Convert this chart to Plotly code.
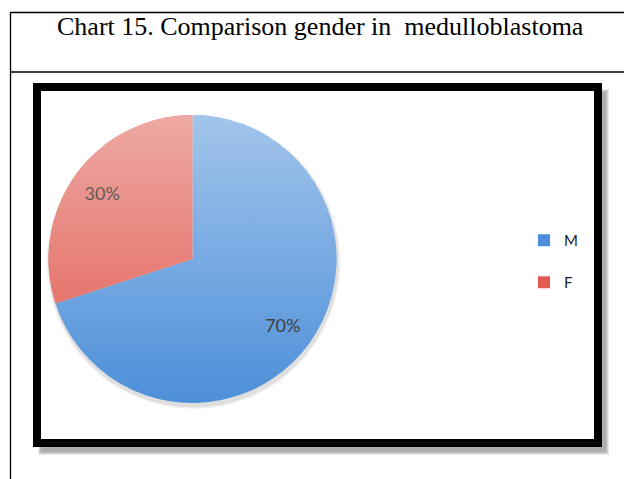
import base64
import plotly.graph_objects as go

# data
genders = ["M", "F"]
share = [70, 30]
colors = ["#4d8fd9", "#e05a50"]
label_colors = ["#222222", "#000000"]
title = "Chart 15. Comparison gender in  medulloblastoma"

W, H = 624, 479


def px(x):
    return x / W


def py(y):
    return 1 - y / H


# pie box in pixels (left, top, right, bottom)
pie_box = (48.5, 115, 336.5, 403)
pie_domain = dict(x=[px(pie_box[0]), px(pie_box[2])], y=[py(pie_box[3]), py(pie_box[1])])

fig = go.Figure()
fig.add_trace(go.Pie(
    labels=[g + "<br> " for g in genders],
    values=share,
    sort=False,
    direction="clockwise",
    rotation=0,
    marker=dict(colors=colors, line=dict(width=0)),
    textinfo="none",
    domain=pie_domain,
    hoverinfo="label+percent",
))
# same slices again, transparent, only to carry the percent labels further out
fig.add_trace(go.Pie(
    labels=[g + "<br> " for g in genders],
    values=share,
    sort=False,
    direction="clockwise",
    rotation=0,
    hole=0.55,
    marker=dict(colors=["rgba(0,0,0,0)"] * len(genders), line=dict(width=0)),
    texttemplate="%{percent:.0%}",
    textposition="inside",
    insidetextorientation="horizontal",
    textfont=dict(family="Lato", size=18, color=label_colors),
    domain=pie_domain,
    showlegend=False,
    hoverinfo="skip",
))

shapes = []
# drop shadow of the framed box
box = (33, 83, 602, 447)
for k in range(4):
    shapes.append(dict(type="rect", xref="paper", yref="paper", layer="below",
                       x0=px(box[0] + 8 - k), x1=px(box[2] + 4 + k),
                       y0=py(box[1] + 9 - k), y1=py(box[3] + 5 + k),
                       line=dict(width=0), fillcolor="rgba(0,0,0,0.09)"))
# thick black frame
shapes.append(dict(type="rect", xref="paper", yref="paper", layer="below",
                   x0=px(box[0] + 4), x1=px(box[2] - 4), y0=py(box[1] + 4), y1=py(box[3] - 4),
                   line=dict(color="black", width=8), fillcolor="white"))
# table lines
shapes.append(dict(type="line", xref="paper", yref="paper", layer="below",
                   x0=px(10.5), x1=1, y0=py(12.5), y1=py(12.5), line=dict(color="black", width=1.3)))
shapes.append(dict(type="line", xref="paper", yref="paper", layer="below",
                   x0=px(10.5), x1=1, y0=py(72), y1=py(72), line=dict(color="black", width=1.3)))
shapes.append(dict(type="line", xref="paper", yref="paper", layer="below",
                   x0=px(10.5), x1=px(10.5), y0=py(12), y1=0, line=dict(color="black", width=1.3)))
# soft shadow under the pie
for k, a in [(3, 0.05), (1.5, 0.08)]:
    shapes.append(dict(type="circle", xref="paper", yref="paper", layer="below",
                       x0=px(pie_box[0] - k + 1), x1=px(pie_box[2] + k + 1),
                       y0=py(pie_box[1] - k + 3), y1=py(pie_box[3] + k + 3),
                       line=dict(width=0), fillcolor="rgba(0,0,0,%s)" % a))

# light vertical gradient laid over the pie
svg = ('<svg xmlns="http://www.w3.org/2000/svg" viewBox="0 0 100 100">'
       '<defs><linearGradient id="g" x1="0" y1="0" x2="0" y2="1">'
       '<stop offset="0" stop-color="white" stop-opacity="0.48"/>'
       '<stop offset="1" stop-color="white" stop-opacity="0"/>'
       '</linearGradient></defs>'
       '<circle cx="50" cy="50" r="50" fill="url(#g)"/></svg>')
img = "data:image/svg+xml;base64," + base64.b64encode(svg.encode()).decode()

fig.update_layout(
    width=W, height=H,
    margin=dict(l=0, r=0, t=0, b=0),
    paper_bgcolor="white",
    plot_bgcolor="white",
    shapes=shapes,
    images=[dict(source=img, xref="paper", yref="paper", layer="above",
                 x=px(pie_box[0]), y=py(pie_box[1]),
                 sizex=px(pie_box[2]) - px(pie_box[0]), sizey=py(pie_box[1]) - py(pie_box[3]),
                 xanchor="left", yanchor="top", sizing="stretch")],
    annotations=[dict(text=title, xref="paper", yref="paper", x=px(320), y=py(27),
                      xanchor="center", yanchor="middle", showarrow=False,
                      font=dict(family="Liberation Serif", size=26, color="black"))],
    showlegend=True,
    legend=dict(x=px(524), y=py(224), xanchor="left", yanchor="top",
                valign="top", bgcolor="rgba(0,0,0,0)",
                font=dict(family="Lato", size=15, color="#222222")),
)

# no page margin, so the figure sits at the window's corner
fig.write_html("out.html", config={"displayModeBar": False},
               post_script="document.body.style.margin='0';")
